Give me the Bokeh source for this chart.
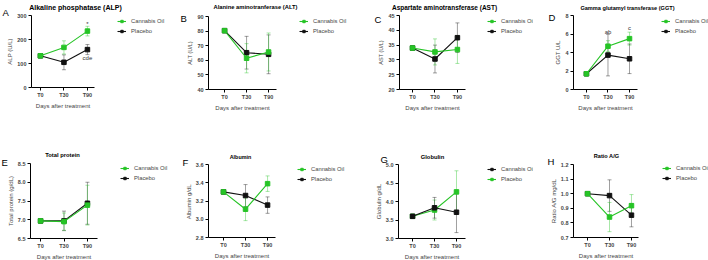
from bokeh.plotting import figure
from bokeh.models import (ColumnDataSource, Whisker, TeeHead, Legend, LegendItem,
                          Label, FixedTicker, Range1d, PrintfTickFormatter)
from bokeh.layouts import gridplot
from bokeh.embed import file_html
from bokeh.resources import INLINE
from bokeh.core.properties import value

# ---------------- data ----------------
categories = ["T0", "T30", "T90"]
x_pos = [0, 1, 2]
series_labels = ["Cannabis Oil", "Placebo"]

alp_oil = [132, 167, 235]
alp_oil_sd = [0, 27.5, 20]
alp_pla = [132, 105, 158]
alp_pla_sd = [0, 31, 21]

alt_oil = [80.3, 61.4, 65.7]
alt_oil_sd = [0, 10.0, 13.0]
alt_pla = [80.3, 65.2, 64.1]
alt_pla_sd = [0, 11.2, 13.3]

ast_oil = [34.0, 32.7, 33.5]
ast_oil_sd = [0, 4.4, 4.7]
ast_pla = [34.0, 30.3, 37.5]
ast_pla_sd = [0, 4.7, 5.0]

ggt_oil = [1.7, 4.68, 5.5]
ggt_oil_sd = [0, 0.6, 0.7]
ggt_pla = [1.7, 3.72, 3.32]
ggt_pla_sd = [0, 2.25, 1.6]

tp_oil = [6.97, 6.95, 7.39]
tp_oil_sd = [0, 0.23, 0.53]
tp_pla = [6.97, 6.97, 7.44]
tp_pla_sd = [0, 0.26, 0.56]

alb_oil = [3.30, 3.11, 3.39]
alb_oil_sd = [0, 0.125, 0.085]
alb_pla = [3.30, 3.26, 3.155]
alb_pla_sd = [0, 0.12, 0.09]

glob_oil = [3.60, 3.83, 3.71]
glob_oil_sd = [0, 0.28, 0.55]
glob_pla = [3.60, 3.77, 4.26]
glob_pla_sd = [0, 0.27, 0.57]

rag_oil = [1.0, 0.84, 0.918]
rag_oil_sd = [0, 0.10, 0.076]
rag_pla = [1.0, 0.987, 0.853]
rag_pla_sd = [0, 0.108, 0.08]

titles = ["Alkaline phosphatase (ALP)", "Alanine aminotranferase (ALT)",
          "Aspartate aminotransferase (AST)", "Gamma glutamyl transferase (GGT)",
          "Total protein", "Albumin", "Globulin", "Ratio A/G"]
letters = ["A", "B", "C", "D", "E", "F", "G", "H"]
y_labels = ["ALP (U/L)", "ALT (U/L)", "AST (U/L)", "GGT U/L",
            "Total protein (g/dL)", "Albumin  g/dL", "Globulin g/dL", "Ratio A/G mg/dL"]
y_ticks = [[0, 100, 200, 300], [40, 50, 60, 70, 80, 90], [20, 25, 30, 35, 40, 45],
           [0, 2, 4, 6, 8], [6.5, 7.0, 7.5, 8.0, 8.5], [2.8, 3.0, 3.2, 3.4, 3.6],
           [3.0, 3.5, 4.0, 4.5, 5.0], [0.7, 0.8, 0.9, 1.0, 1.1, 1.2]]
x_title = "Days after treatment"

oil_means = [alp_oil, alt_oil, ast_oil, ggt_oil, tp_oil, alb_oil, glob_oil, rag_oil]
oil_sds = [alp_oil_sd, alt_oil_sd, ast_oil_sd, ggt_oil_sd, tp_oil_sd, alb_oil_sd, glob_oil_sd, rag_oil_sd]
pla_means = [alp_pla, alt_pla, ast_pla, ggt_pla, tp_pla, alb_pla, glob_pla, rag_pla]
pla_sds = [alp_pla_sd, alt_pla_sd, ast_pla_sd, ggt_pla_sd, tp_pla_sd, alb_pla_sd, glob_pla_sd, rag_pla_sd]

# significance letters: (panel, x index, y value, text)
ann_panel = [0, 0, 3, 3]
ann_x = [2, 2, 1, 2]
ann_y = [263, 121, 6.27, 6.6]
ann_text = ["*", "cde", "ab", "c"]

# ---------------- layout / style ----------------
GREEN = "#26c426"
BLACK = "#111111"
FONT = "Liberation Sans"
oil_colors = [GREEN] * 6 + [BLACK] + [GREEN]
pla_colors = [BLACK] * 6 + [GREEN] + [BLACK]
fmts = ["%d", "%d", "%d", "%d", "%.1f", "%.1f", "%.1f", "%.1f"]
ylab_sizes = ["6px", "5.5px", "5.5px", "6px", "6px", "6px", "6px", "6px"]

PH = 130
panel_x0 = [0, 175, 350, 533, 0, 175, 350, 533]
panel_w = [175, 175, 183, 175, 175, 175, 183, 175]
panel_y0 = [0, 0, 0, 0, 130, 130, 130, 130]
# axes box: left, right, top, bottom (absolute px)
frames = [(31, 94, 15, 87), (208, 276, 16, 89), (399, 465, 15, 89), (573, 637, 15, 89),
          (30, 97, 163, 238), (208, 275, 164, 237), (398, 465, 164, 238), (573, 638, 164, 237)]
xr = [(-0.38, 2.3), (-0.73, 2.36), (-0.58, 2.36), (-0.6, 2.37),
      (-0.43, 2.43), (-0.68, 2.36), (-0.64, 2.41), (-0.64, 2.32)]
title_pos = [(75, 7, "7px"), (255, 6.5, "5.8px"), (444, 6.5, "6.5px"), (627, 7, "5.6px"),
             (62, 154, "5.8px"), (240, 156, "5.4px"), (432, 156, "5.8px"), (606, 155, "5.6px")]
letter_pos = [(2, 12), (180, 18), (374, 19), (548, 17), (1, 162), (182, 162), (380, 159), (547, 161)]
legend_pos = [(117, 21), (299, 21), (487, 21), (661, 21), (120, 168), (297, 169), (487, 169), (662, 168)]


def make_panel(i):
    fl, fr, ft, fb = frames[i]
    x0, y0, w = panel_x0[i], panel_y0[i], panel_w[i]
    yt = y_ticks[i]
    xa, xb = xr[i]
    ya, yb = yt[0], yt[-1]
    # the plotting frame covers the whole panel; axes sit at fixed locations inside it
    kx = (fr - fl) / (xb - xa)
    ky = (fb - ft) / (yb - ya)
    x_range = Range1d(xa - (fl - x0) / kx, xb + (x0 + w - fr) / kx)
    y_range = Range1d(ya - (y0 + PH - fb) / ky, yb + (ft - y0) / ky)
    p = figure(width=w, height=PH, output_backend="svg", toolbar_location=None,
               x_range=x_range, y_range=y_range,
               min_border=0, min_border_left=0, min_border_right=0,
               min_border_top=0, min_border_bottom=0)
    p.outline_line_color = None
    p.xgrid.visible = False
    p.ygrid.visible = False

    p.xaxis.ticker = FixedTicker(ticks=x_pos)
    p.xaxis.major_label_overrides = dict(zip(x_pos, categories))
    p.xaxis.fixed_location = ya
    p.xaxis.bounds = (xa, xb)
    p.yaxis.ticker = FixedTicker(ticks=yt)
    p.yaxis.formatter = PrintfTickFormatter(format=fmts[i])
    p.yaxis.fixed_location = xa
    p.yaxis.bounds = (ya, yb)
    for ax in (p.xaxis[0], p.yaxis[0]):
        ax.axis_line_width = 1
        ax.axis_line_color = "black"
        ax.major_tick_out = 3
        ax.major_tick_in = 0
        ax.major_tick_line_color = "black"
        ax.minor_tick_line_color = None
        ax.major_label_text_font = FONT
        ax.major_label_text_font_size = "5.5px"
        ax.major_label_text_font_style = "bold"
        ax.major_label_standoff = 2
        ax.axis_label_text_font = FONT
        ax.axis_label_text_font_style = "normal"
    p.xaxis.major_label_standoff = 1
    p.xaxis.axis_label = x_title
    p.xaxis.axis_label_text_font_size = "6px"
    p.xaxis.axis_label_standoff = 2
    p.yaxis.axis_label = y_labels[i]
    p.yaxis.axis_label_text_font_size = ylab_sizes[i]
    p.yaxis.axis_label_standoff = 1

    renderers = {}
    # Placebo drawn first, Cannabis Oil on top
    for key, means, sds, col in (("pla", pla_means[i], pla_sds[i], pla_colors[i]),
                                 ("oil", oil_means[i], oil_sds[i], oil_colors[i])):
        idx = [k for k in range(len(x_pos)) if sds[k] > 0]
        esrc = ColumnDataSource(dict(x=[x_pos[k] for k in idx],
                                     upper=[means[k] + sds[k] for k in idx],
                                     lower=[means[k] - sds[k] for k in idx]))
        wk = Whisker(base="x", upper="upper", lower="lower", source=esrc, dimension="height",
                     line_color=col, line_alpha=0.5, line_width=0.8, level="underlay",
                     upper_head=TeeHead(size=4, line_color=col, line_alpha=0.5, line_width=0.8),
                     lower_head=TeeHead(size=4, line_color=col, line_alpha=0.5, line_width=0.8))
        p.add_layout(wk)
        src = ColumnDataSource(dict(x=x_pos, y=means))
        ln = p.line("x", "y", source=src, line_color=col, line_width=1.1)
        sc = p.scatter("x", "y", source=src, marker="square", size=4.5,
                       fill_color=col, line_color=col)
        renderers[key] = [ln, sc]

    # significance letters
    ax_ = [x_pos[ann_x[k]] for k in range(len(ann_text)) if ann_panel[k] == i]
    ay_ = [ann_y[k] for k in range(len(ann_text)) if ann_panel[k] == i]
    at_ = [ann_text[k] for k in range(len(ann_text)) if ann_panel[k] == i]
    if at_:
        p.text(x=ax_, y=ay_, text=at_, text_font=value(FONT), text_font_size="6px",
               text_align="center", text_baseline="middle", text_color="#333333")

    # legend (location measured from the frame's bottom-left corner)
    lx, ly = legend_pos[i]
    leg = Legend(items=[LegendItem(label=series_labels[0], renderers=renderers["oil"]),
                        LegendItem(label=series_labels[1], renderers=renderers["pla"])],
                 location=(lx - x0, (y0 + PH) - ly - 13), orientation="vertical",
                 padding=0, margin=0, spacing=4, glyph_width=9, glyph_height=6,
                 label_height=6, label_standoff=5, label_text_font=FONT,
                 label_text_font_size="5.8px", border_line_color=None,
                 background_fill_alpha=0)
    p.add_layout(leg)

    # title and panel letter
    tx, ty, tfs = title_pos[i]
    p.add_layout(Label(x=tx - x0, y=(y0 + PH) - ty, x_units="screen", y_units="screen",
                       text=titles[i], text_font=FONT, text_font_size=tfs,
                       text_font_style="bold", text_align="center",
                       text_baseline="alphabetic", text_color="black"))
    gx, gy = letter_pos[i]
    p.add_layout(Label(x=gx - x0, y=(y0 + PH) - gy, x_units="screen", y_units="screen",
                       text=letters[i], text_font=FONT, text_font_size="9.5px",
                       text_align="left", text_baseline="alphabetic", text_color="black"))
    return p


panels = [make_panel(i) for i in range(8)]
grid = gridplot([panels[:4], panels[4:]], toolbar_location=None)
open("out.html", "w").write(file_html(grid, INLINE))
